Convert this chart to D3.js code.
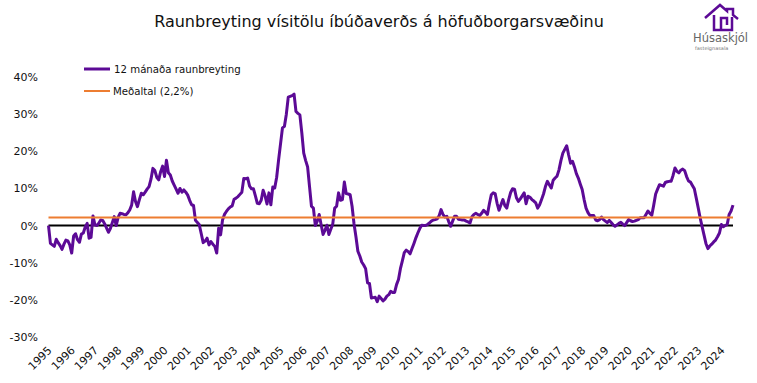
<!DOCTYPE html>
<html lang="is">

<head>
    <meta charset="UTF-8">
    <script src="https://d3js.org/d3.v7.min.js"></script>
    <title>Raunbreyting</title>
    <style>
        body { margin: 0; background: #fff; }
        text { font-family: "DejaVu Sans", sans-serif; fill: #111; }
    </style>
</head>

<body>
    <svg id="chart" width="757" height="383"></svg>
    <script>
        // Monthly values, one row per year
        const values = [
            0, -4.8, -5.2, -5.6, -3.7, -4.6, -5.4, -6.4, -5.0, -3.9, -4.1, -5.2,
            -7.4, -2.8, -2.2, -3.8, -4.5, -2.3, -2.0, -0.4, 0.6, -3.4, -3.2, 2.6,
            0.2, 0.0, 0.6, 1.5, 1.4, 0.5, -0.6, -1.8, -0.8, 0.8, 2.4, 0.0,
            2.2, 3.3, 3.2, 3.0, 2.9, 3.4, 4.2, 5.5, 9.1, 6.5, 5.1, 7.0,
            8.7, 8.3, 9.0, 9.8, 10.5, 12.5, 15.4, 14.8, 13.0, 12.3, 14.5, 16.0,
            13.2, 17.6, 14.2, 13.6, 12.0, 10.9, 9.8, 8.7, 10.0, 9.0, 9.6, 9.0,
            8.2, 6.8, 5.6, 5.4, 1.4, 0.8, 0.2, -2.2, -4.6, -4.2, -3.4, -5.2,
            -4.3, -5.0, -5.6, -7.4, -0.7, -2.5, 1.5, 3.0, 3.8, 4.5, 5.0, 5.3,
            7.1, 7.4, 7.8, 8.4, 9.0, 12.7, 12.6, 12.8, 10.6, 9.9, 9.9, 8.0,
            6.0, 5.9, 6.8, 9.5, 8.0, 5.8, 8.8, 5.6, 10.4, 10.1, 13.0, 17.7,
            22.0, 26.3, 26.7, 30.0, 34.6, 34.8, 35.0, 35.4, 30.7, 30.2, 29.8, 25.0,
            19.5, 17.5, 15.8, 10.5, 5.2, 4.7, 0.0, 1.2, 3.0, 0.2, -2.4, -1.2,
            0.1, -2.4, -1.0, 0.4, 4.7, 5.2, 8.8, 6.8, 7.0, 11.7, 8.6, 8.5,
            8.3, 5.2, 0.5, -3.0, -6.9, -8.2, -9.8, -10.6, -11.6, -15.4, -15.6, -19.5,
            -19.4, -19.3, -20.5, -19.0, -19.6, -20.3, -19.8, -19.0, -18.6, -17.7, -18.0, -18.0,
            -15.9, -14.5, -11.6, -9.5, -7.3, -6.6, -7.0, -7.6, -6.2, -4.8, -3.3, -2.0,
            -0.8, 0.1, 0.0, 0.0, 0.3, 0.7, 1.2, 1.5, 1.6, 1.8, 2.6, 4.3,
            3.0, 2.3, 2.5, 1.0, -0.2, 1.2, 2.5, 2.5, 1.7, 1.6, 1.5, 1.5,
            1.2, 1.0, 0.7, 2.4, 3.0, 3.3, 3.0, 2.7, 3.3, 4.1, 3.6, 3.0,
            5.8, 8.3, 8.8, 8.6, 6.0, 4.1, 5.6, 7.0, 5.4, 4.7, 7.0, 8.9,
            9.9, 9.8, 7.5, 6.5, 7.2, 8.0, 8.8, 5.9, 7.9, 7.6, 7.0, 6.6,
            6.1, 4.7, 5.6, 7.0, 8.5, 10.5, 11.9, 11.0, 10.1, 12.2, 12.8, 13.3,
            15.0, 17.5, 19.5, 20.5, 21.5, 19.0, 16.8, 17.3, 15.8, 14.0, 12.8, 11.2,
            9.7, 7.0, 4.7, 3.5, 2.7, 2.7, 2.7, 1.5, 1.3, 1.6, 2.3, 1.6,
            1.2, 0.8, 1.4, 0.8, 0.2, -0.2, 0.2, 0.6, 0.9, 0.4, 0.0, 0.8,
            1.6, 1.3, 1.1, 1.2, 1.4, 1.6, 2.1, 2.1, 2.1, 3.0, 3.9, 3.3,
            2.8, 5.5, 8.5, 9.8, 11.0, 10.8, 10.6, 11.6, 11.8, 11.9, 11.9, 13.5,
            15.5, 14.6, 14.2, 14.9, 15.2, 14.8, 13.2, 12.0, 11.7, 10.8, 9.9, 7.4,
            4.8, 2.1, -0.2, -2.5, -4.8, -6.2, -5.5, -5.0, -4.4, -3.9, -3.0, -2.0,
            0.3, -0.3, 0.0, 0.3, 3.0, 3.9, 5.5
        ];
        const average = 2.2;
        const years = d3.range(1995, 2025);
        const yTicks = [40, 30, 20, 10, 0, -10, -20, -30];
        const seriesName = "12 mánaða raunbreyting";
        const averageName = "Meðaltal (2,2%)";
        const chartTitle = "Raunbreyting vísitölu íbúðaverðs á höfuðborgarsvæðinu";

        const purple = "#5c0a96";
        const orange = "#ed7d31";

        // Month index -> pixel, 1.93 px a month
        const x = d3.scaleLinear().domain([0, 354]).range([48.5, 733]);
        const y = d3.scaleLinear().domain([-30, 40]).range([337, 77]);

        const svg = d3.select("#chart");

        svg.append("text")
            .attr("x", 379)
            .attr("y", 27)
            .attr("text-anchor", "middle")
            .attr("font-size", 16)
            .text(chartTitle);

        // Y axis labels only
        const yAxis = d3.axisLeft(y).tickValues(yTicks).tickSize(0).tickPadding(0)
            .tickFormat(d => d + "%");
        svg.append("g")
            .attr("transform", "translate(38,0)")
            .call(yAxis)
            .call(g => g.select(".domain").remove())
            .selectAll("text")
            .attr("font-size", 11)
            .style("font-family", null);

        // Year labels, rotated
        svg.append("g").selectAll("text")
            .data(years)
            .enter().append("text")
            .attr("text-anchor", "end")
            .attr("font-size", 11)
            .attr("transform", d => `translate(${x((d - 1995) * 12) + 4},351) rotate(-45)`)
            .text(d => d);

        // Zero line
        svg.append("line")
            .attr("x1", x(0))
            .attr("x2", x(354))
            .attr("y1", y(0))
            .attr("y2", y(0))
            .attr("stroke", "#000")
            .attr("stroke-width", 2);

        const line = d3.line()
            .x((d, i) => x(i))
            .y(d => y(d));

        svg.append("path")
            .datum(values)
            .attr("d", line)
            .attr("fill", "none")
            .attr("stroke", purple)
            .attr("stroke-width", 3)
            .attr("stroke-linejoin", "round");

        // Average line
        svg.append("line")
            .attr("x1", x(0))
            .attr("x2", x(354))
            .attr("y1", y(average))
            .attr("y2", y(average))
            .attr("stroke", orange)
            .attr("stroke-width", 2);

        // Legend
        svg.append("line").attr("x1", 84).attr("x2", 110).attr("y1", 69).attr("y2", 69)
            .attr("stroke", purple).attr("stroke-width", 3);
        svg.append("text").attr("x", 114).attr("y", 73).attr("font-size", 10.2).text(seriesName);
        svg.append("line").attr("x1", 84).attr("x2", 110).attr("y1", 91).attr("y2", 91)
            .attr("stroke", orange).attr("stroke-width", 2);
        svg.append("text").attr("x", 113).attr("y", 95).attr("font-size", 10.2).text(averageName);

        // Logo
        const logo = svg.append("g");
        logo.append("path")
            .attr("d", "M705,18 L720,5 L727,11 L727,9 L733,9 L733,15 L738,19 M714,15 L714,30 L732,30 L732,17 M721,29 L721,18 L727,18 L727,25")
            .attr("fill", "none")
            .attr("stroke", purple)
            .attr("stroke-width", 2.5);
        logo.append("text").attr("x", 693).attr("y", 42).attr("font-size", 11.5).style("fill", "#666").text("Húsaskjól");
        logo.append("text").attr("x", 695).attr("y", 50).attr("font-size", 5).style("fill", "#777").text("fasteignasala");
    </script>
</body>

</html>
